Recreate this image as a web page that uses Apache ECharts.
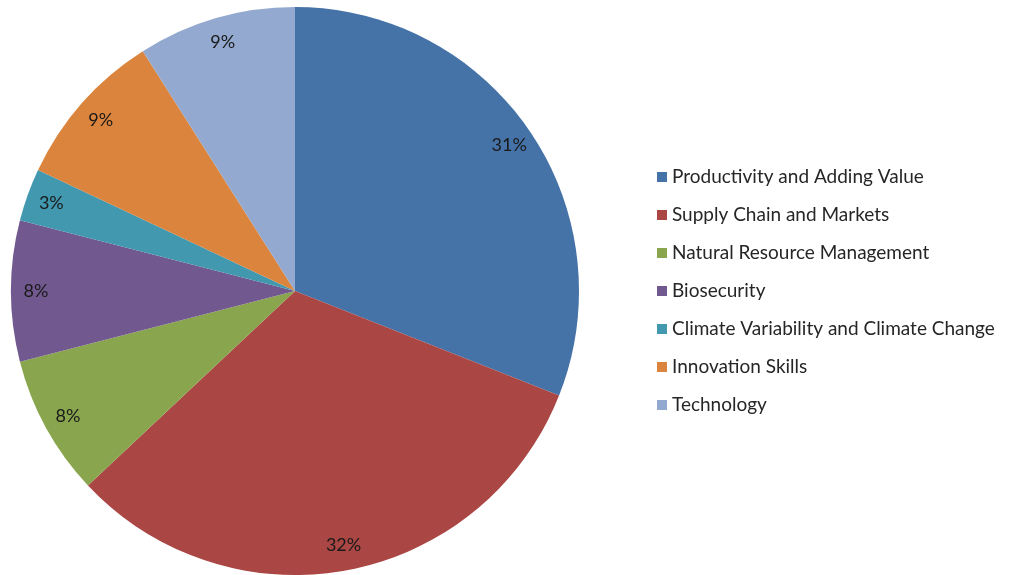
<!DOCTYPE html>
<html>
<head>
<meta charset="utf-8">
<script src="https://cdn.jsdelivr.net/npm/echarts@6/dist/echarts.min.js"></script>
<style>
  html, body { margin: 0; padding: 0; background: #ffffff; }
  #chart { width: 1011px; height: 575px; }
</style>
</head>
<body>
<div id="chart"></div>
<script>
// Share of projects by research theme (percent)
const categories = [
  'Productivity and Adding Value',
  'Supply Chain and Markets',
  'Natural Resource Management',
  'Biosecurity',
  'Climate Variability and Climate Change',
  'Innovation Skills',
  'Technology'
];
const shares = [31, 32, 8, 8, 3, 9, 9];
const colors = ['#4572A7', '#AA4643', '#89A54E', '#71588F', '#4198AF', '#DB843D', '#93A9CF'];

const FONT = 'Lato, "Open Sans", sans-serif';
const data = categories.map((name, i) => ({ name: name, value: shares[i] }));

const chart = echarts.init(document.getElementById('chart'), null, { renderer: 'canvas' });
chart.setOption({
  animation: false,
  color: colors,
  legend: {
    orient: 'vertical',
    left: 657,
    top: 167,
    padding: 0,
    itemWidth: 10,
    itemHeight: 10,
    itemGap: 18,
    icon: 'rect',
    data: categories,
    textStyle: { fontFamily: FONT, fontSize: 19, color: '#262626', lineHeight: 20 }
  },
  series: [
    {
      type: 'pie',
      center: [295, 291],
      radius: [0, 284],
      startAngle: 90,
      clockwise: true,
      data: data,
      label: { show: false },
      labelLine: { show: false },
      itemStyle: { borderWidth: 0 },
      emphasis: { disabled: true }
    },
    {
      // transparent ring that only carries the percentage labels near the rim
      type: 'pie',
      center: [295, 291],
      radius: [228, 284],
      startAngle: 90,
      clockwise: true,
      silent: true,
      data: data,
      itemStyle: { color: 'rgba(0,0,0,0)', borderWidth: 0 },
      label: {
        show: true,
        position: 'inside',
        formatter: p => p.value + '%',
        fontFamily: FONT,
        fontSize: 18,
        color: '#1a1a1a'
      },
      labelLine: { show: false },
      emphasis: { disabled: true }
    }
  ]
});
</script>
</body>
</html>
